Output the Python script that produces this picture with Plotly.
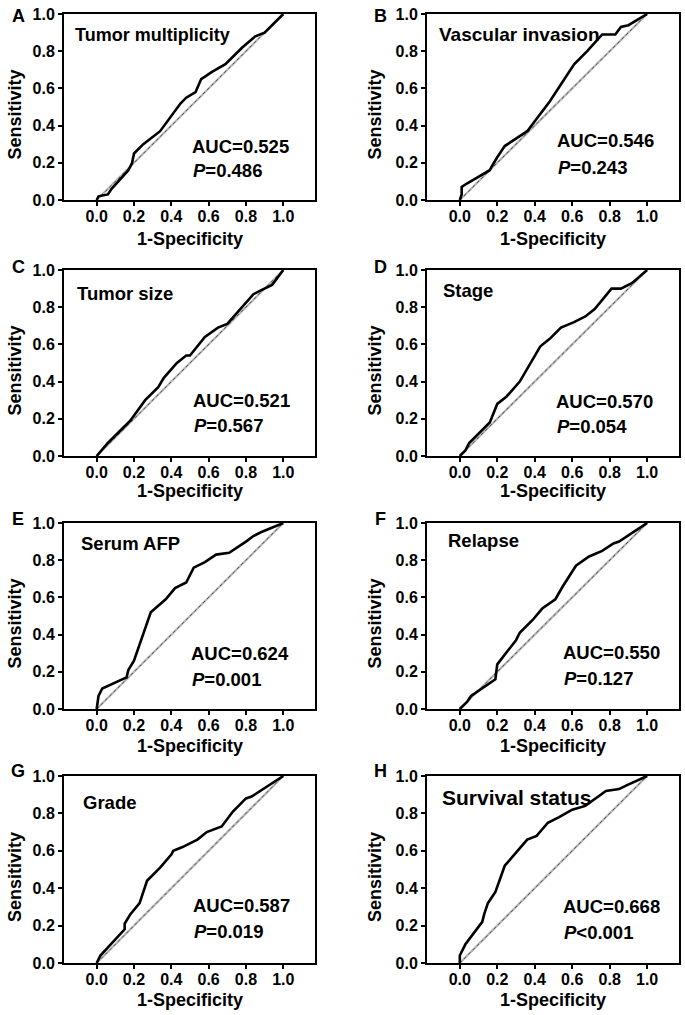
import plotly.graph_objects as go

letters = ["A", "B", "C", "D", "E", "F", "G", "H"]
names = ["Tumor multiplicity", "Vascular invasion", "Tumor size", "Stage",
         "Serum AFP", "Relapse", "Grade", "Survival status"]
aucs = ["0.525", "0.546", "0.521", "0.570", "0.624", "0.550", "0.587", "0.668"]
pvals = ["=0.486", "=0.243", "=0.567", "=0.054", "=0.001", "=0.127", "=0.019", "<0.001"]
x_title = "1-Specificity"
y_title = "Sensitivity"

fpr_A = [0, 0.01, 0.06, 0.08, 0.17, 0.19, 0.20, 0.25, 0.34, 0.37, 0.45, 0.48, 0.53, 0.56, 0.62, 0.69, 0.78, 0.85, 0.90, 1.0]
tpr_A = [0, 0.02, 0.03, 0.06, 0.16, 0.20, 0.25, 0.30, 0.37, 0.41, 0.52, 0.55, 0.58, 0.65, 0.69, 0.73, 0.82, 0.88, 0.90, 1.0]

fpr_B = [0, 0.01, 0.01, 0.04, 0.16, 0.17, 0.20, 0.24, 0.33, 0.36, 0.39, 0.48, 0.61, 0.68, 0.76, 0.83, 0.86, 0.90, 1.0]
tpr_B = [0, 0.03, 0.07, 0.09, 0.16, 0.18, 0.23, 0.29, 0.35, 0.37, 0.41, 0.53, 0.73, 0.80, 0.89, 0.89, 0.93, 0.94, 1.0]

fpr_C = [0, 0.06, 0.13, 0.18, 0.26, 0.33, 0.36, 0.43, 0.48, 0.50, 0.58, 0.65, 0.70, 0.84, 0.88, 0.94, 1.0]
tpr_C = [0, 0.07, 0.14, 0.19, 0.30, 0.37, 0.42, 0.50, 0.54, 0.54, 0.64, 0.69, 0.71, 0.87, 0.89, 0.92, 1.0]

fpr_D = [0, 0.03, 0.05, 0.16, 0.20, 0.25, 0.32, 0.39, 0.43, 0.48, 0.54, 0.61, 0.67, 0.72, 0.81, 0.86, 0.92, 1.0]
tpr_D = [0, 0.03, 0.07, 0.18, 0.28, 0.32, 0.40, 0.52, 0.59, 0.63, 0.69, 0.72, 0.75, 0.79, 0.90, 0.90, 0.93, 1.0]

fpr_E = [0, 0.01, 0.03, 0.16, 0.17, 0.20, 0.29, 0.37, 0.42, 0.48, 0.52, 0.58, 0.64, 0.71, 0.80, 0.84, 0.88, 1.0]
tpr_E = [0, 0.07, 0.11, 0.17, 0.21, 0.26, 0.52, 0.59, 0.65, 0.68, 0.76, 0.79, 0.83, 0.84, 0.90, 0.93, 0.95, 1.0]

fpr_F = [0, 0.04, 0.06, 0.12, 0.19, 0.20, 0.30, 0.32, 0.39, 0.44, 0.51, 0.55, 0.62, 0.69, 0.76, 0.82, 0.85, 0.91, 1.0]
tpr_F = [0, 0.04, 0.07, 0.11, 0.16, 0.24, 0.37, 0.41, 0.48, 0.54, 0.59, 0.66, 0.77, 0.82, 0.85, 0.89, 0.90, 0.94, 1.0]

fpr_G = [0, 0.02, 0.15, 0.15, 0.18, 0.23, 0.27, 0.34, 0.40, 0.41, 0.46, 0.54, 0.59, 0.67, 0.73, 0.80, 0.83, 0.89, 1.0]
tpr_G = [0, 0.04, 0.18, 0.21, 0.26, 0.32, 0.44, 0.51, 0.58, 0.60, 0.62, 0.66, 0.70, 0.73, 0.81, 0.88, 0.89, 0.93, 1.0]

fpr_H = [0, 0.00, 0.03, 0.06, 0.12, 0.13, 0.15, 0.19, 0.24, 0.30, 0.36, 0.41, 0.47, 0.53, 0.60, 0.67, 0.74, 0.78, 0.85, 0.89, 1.0]
tpr_H = [0, 0.04, 0.10, 0.14, 0.22, 0.26, 0.32, 0.38, 0.52, 0.59, 0.66, 0.68, 0.75, 0.78, 0.82, 0.84, 0.89, 0.92, 0.93, 0.95, 1.0]

fprs = [fpr_A, fpr_B, fpr_C, fpr_D, fpr_E, fpr_F, fpr_G, fpr_H]
tprs = [tpr_A, tpr_B, tpr_C, tpr_D, tpr_E, tpr_F, tpr_G, tpr_H]
ticks = [0.0, 0.2, 0.4, 0.6, 0.8, 1.0]
tick_text = ["0.0", "0.2", "0.4", "0.6", "0.8", "1.0"]

W, H = 685, 1015
col_px = [(64, 315), (427, 679)]
row_px = [(14, 200), (270, 456), (523, 709), (776, 963)]
xtitle_y_px = [239, 491, 746, 1000]
ytitle_x_px = [14.5, 374.5]
name_pos = [(-0.125, 0.889), (-0.121, 0.892), (-0.118, 0.875), (-0.098, 0.889),
            (-0.094, 0.889), (-0.072, 0.904), (-0.085, 0.858), (-0.108, 0.883)]
name_size = [18, 19, 18.5, 18.5, 18.5, 18.5, 18.5, 21]
auc_pos = [(0.50, 0.29, 0.158), (0.51, 0.32, 0.176), (0.506, 0.30, 0.163), (0.503, 0.295, 0.157),
           (0.496, 0.296, 0.157), (0.539, 0.304, 0.1625), (0.505, 0.31, 0.168), (0.539, 0.303, 0.162)]

FONT = "Liberation Sans, Arial, sans-serif"
fig = go.Figure()
annotations = []
for i in range(8):
    r, c = divmod(i, 2)
    n = i + 1
    xa = "x" if n == 1 else f"x{n}"
    ya = "y" if n == 1 else f"y{n}"
    x0, x1 = col_px[c]
    t0, t1 = row_px[r]
    xdom = [x0 / W, x1 / W]
    ydom = [1 - t1 / H, 1 - t0 / H]
    common = dict(showgrid=False, zeroline=False, showline=True, linecolor="black",
                  linewidth=2, mirror=True, ticks="outside", ticklen=4, tickwidth=1.5,
                  tickcolor="black", tickvals=ticks, ticktext=tick_text, automargin=False,
                  tickfont=dict(family=FONT, size=16, color="black", weight="bold"))
    fig.update_layout(**{
        ("xaxis" if n == 1 else f"xaxis{n}"): dict(domain=xdom, range=[-0.175, 1.17], anchor=ya,
                                                   ticklabelstandoff=-3, **common),
        ("yaxis" if n == 1 else f"yaxis{n}"): dict(domain=ydom, range=[0, 1.0], anchor=xa, **common),
    })
    # diagonal reference
    fig.add_trace(go.Scatter(x=[0, 1], y=[0, 1], mode="lines", xaxis=xa, yaxis=ya,
                             line=dict(color="#b5b5b5", width=2.2), showlegend=False, hoverinfo="skip"))
    fig.add_trace(go.Scatter(x=[0, 1], y=[0, 1], mode="lines", xaxis=xa, yaxis=ya,
                             line=dict(color="#555555", width=1, dash="dot"), showlegend=False, hoverinfo="skip"))
    fig.add_trace(go.Scatter(x=fprs[i], y=tprs[i], mode="lines", xaxis=xa, yaxis=ya,
                             line=dict(color="black", width=2.6), showlegend=False))
    nx, ny = name_pos[i]
    annotations.append(dict(x=nx, y=ny, xref=xa, yref=ya, text=names[i], showarrow=False,
                            xanchor="left", yanchor="middle",
                            font=dict(family=FONT, size=name_size[i], color="black", weight="bold")))
    ax, ay, py = auc_pos[i]
    annotations.append(dict(x=ax, y=ay, xref=xa, yref=ya, text="AUC=" + aucs[i], showarrow=False,
                            xanchor="left", yanchor="middle",
                            font=dict(family=FONT, size=18.5, color="black", weight="bold")))
    annotations.append(dict(x=ax + 0.005, y=py, xref=xa, yref=ya, text="<i>P</i>" + pvals[i].replace("<", "&lt;"),
                            showarrow=False, xanchor="left", yanchor="middle",
                            font=dict(family=FONT, size=18.5, color="black", weight="bold")))
    # axis titles
    annotations.append(dict(x=0.5, y=1 - xtitle_y_px[r] / H, xref=xa, yref="paper", text=x_title,
                            showarrow=False, xanchor="center", yanchor="middle",
                            font=dict(family=FONT, size=18, color="black", weight="bold")))
    annotations.append(dict(x=ytitle_x_px[c] / W, y=1 - ((t0 + t1) / 2 + 8) / H, xref="paper", yref="paper",
                            text=y_title, textangle=-90, showarrow=False, xanchor="center", yanchor="middle",
                            font=dict(family=FONT, size=18, color="black", weight="bold")))
    # panel letter
    lx = 18 if c == 0 else 380
    ly = [16, 267, 519, 771][r]
    annotations.append(dict(x=lx / W, y=1 - ly / H, xref="paper", yref="paper", text=letters[i],
                            showarrow=False, xanchor="center", yanchor="middle",
                            font=dict(family=FONT, size=18, color="black", weight="bold")))

fig.update_layout(width=W, height=H, margin=dict(l=0, r=0, t=0, b=0, autoexpand=False),
                  plot_bgcolor="white", paper_bgcolor="white", annotations=annotations)
fig.write_html("out.html", config={"displayModeBar": False},
               post_script="document.body.style.margin='0';document.body.style.overflow='hidden';")
